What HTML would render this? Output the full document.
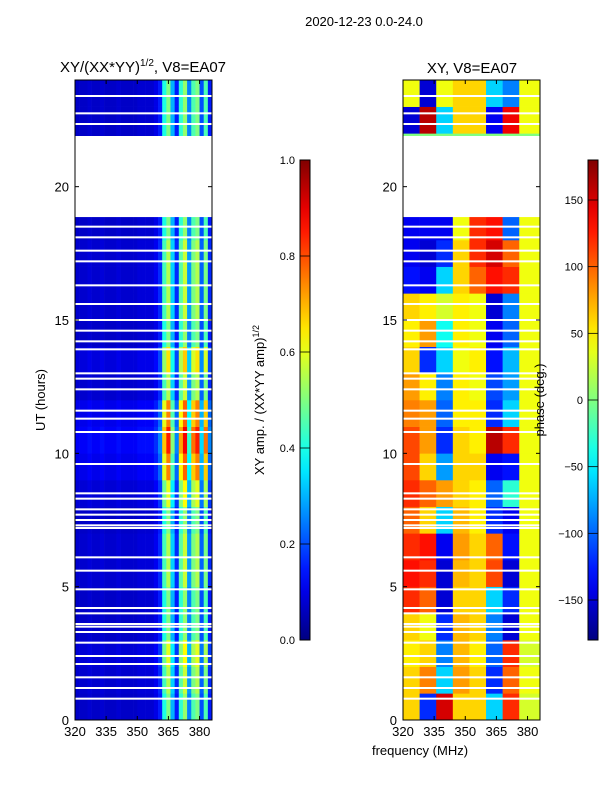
<!DOCTYPE html>
<html><head><meta charset="utf-8"><style>
body{margin:0;background:#fff;width:600px;height:800px;overflow:hidden;font-family:"Liberation Sans",sans-serif}
svg text{font-family:"Liberation Sans",sans-serif;fill:#000}
</style></head><body>
<svg id="fig" width="600" height="800" xmlns="http://www.w3.org/2000/svg">
<text x="364" y="26" font-size="13" text-anchor="middle">2020-12-23 0.0-24.0</text>
<text x="143" y="72" font-size="15" text-anchor="middle">XY/(XX*YY)<tspan font-size="10" dy="-6">1/2</tspan><tspan dy="6">, V8=EA07</tspan></text>
<text x="472" y="73" font-size="15" text-anchor="middle">XY, V8=EA07</text>
<text transform="translate(45,400) rotate(-90)" font-size="13" text-anchor="middle">UT (hours)</text>
<text transform="translate(264,400) rotate(-90)" font-size="13" text-anchor="middle">XY amp. / (XX*YY amp)<tspan font-size="9" dy="-5">1/2</tspan></text>
<g id="left"></g>
<g id="right"></g>
<text transform="translate(544,400) rotate(-90)" font-size="13" text-anchor="middle">phase (deg.)</text>
<text x="420" y="755" font-size="13" text-anchor="middle">frequency (MHz)</text>
<g id="cb"></g>
<g id="axes"></g>
</svg>
<script>
// ---- data ----
const ampFreqs=[320,322,324,326,328,330,332,334,336,338,340,342,344,346,348,350,352,354,356,358,360,362,364,366,368,370,372,374,376,378,380,382,384];
const ampCols=[0.07,0.07,0.07,0.08,0.07,0.07,0.08,0.07,0.07,0.07,0.08,0.07,0.07,0.07,0.07,0.08,0.08,0.08,0.08,0.1,0.15,0.4,0.5,0.3,0.15,0.42,0.52,0.25,0.45,0.5,0.2,0.45,0.15];
const ampRowScale=[1,1.1,1.2,1,1,1.1,1.1,1,1.2,1.5,1.7,1.5,1.1,1.3,1,1.1,1.1,1.1,1,1,1,1,1,1];
const phaseFreqs=[320,328,336,344,352,360,368,376];
const phaseRows=[
[60,-120,150,60,60,-60,120,30],
[60,90,-60,80,60,-120,100,40],
[50,60,-90,70,50,-100,120,30],
[60,40,-120,70,60,-90,-150,40],
[120,100,-150,60,60,-60,-120,40],
[130,120,-150,70,60,110,-150,40],
[120,130,-140,80,60,100,-130,40],
[100,60,-60,70,50,-120,-140,40],
[120,100,80,60,50,-100,-30,40],
[110,60,-80,60,60,-140,-130,40],
[110,80,-120,60,50,160,120,40],
[90,80,-100,50,50,-120,-60,40],
[80,50,-90,50,40,-110,-80,40],
[60,-120,-60,40,50,-130,-70,40],
[50,80,-40,50,40,-140,-100,40],
[60,50,30,50,40,-150,-90,40],
[-130,-140,-60,60,100,130,120,40],
[-140,-150,-120,60,120,150,100,40],
[-140,-140,-140,40,120,130,-100,40],
[0,0,0,0,0,0,0,0],[0,0,0,0,0,0,0,0],[0,0,0,0,0,0,0,0],
[-150,160,-60,60,60,-140,140,40],
[40,-150,40,60,60,-60,-90,40]];
const gapStart=[18.86];const gapEnd=[21.9];
const gapLines=[22.35,22.75,23.4,18.5,18.1,17.6,17.2,16.3,15.6,15.0,14.6,14.2,13.9,13.0,12.8,12.4,11.6,11.3,10.8,9.6,8.5,8.3,7.9,7.7,7.5,7.3,7.2,6.1,5.6,4.9,4.2,4.0,3.6,3.5,3.3,2.9,2.4,2.1,1.6,1.2,0.8];
const xTicks=[320,335,350,365,380];
const yTicks=[0,5,10,15,20];
const ampTicks=[0.0,0.2,0.4,0.6,0.8,1.0];
const phaseTicks=[-150,-100,-50,0,50,100,150];
// ---- helpers ----
const NS="http://www.w3.org/2000/svg";
function jet(v){v=Math.max(0,Math.min(1,v));const f=t=>Math.round(255*Math.max(0,Math.min(1,1.5-Math.abs(4*v-t))));return `rgb(${f(3)},${f(2)},${f(1)})`;}
function mk(tag,attrs,parent){const e=document.createElementNS(NS,tag);for(const k in attrs)e.setAttribute(k,attrs[k]);parent.appendChild(e);return e;}
const fMin=320,fMax=386,hMin=0,hMax=24;
const panels={left:{x0:75,x1:212},right:{x0:403,x1:540}};
const yTop=80,yBot=720;
const yS=h=>yBot-(h-hMin)/(hMax-hMin)*(yBot-yTop);
const xS=(p,f)=>p.x0+(f-fMin)/(fMax-fMin)*(p.x1-p.x0);
// left amp
const L=document.getElementById('left');
for(let r=0;r<24;r++){for(let c=0;c<ampFreqs.length;c++){
 const f0=ampFreqs[c],f1=c+1<ampFreqs.length?ampFreqs[c+1]:fMax;
 const x=xS(panels.left,f0),w=xS(panels.left,f1)-x;
 const el=mk('rect',{x:x,y:yS(r+1),width:w+0.3,height:yS(r)-yS(r+1)+0.3,fill:jet(ampCols[c]*ampRowScale[r])},L);
 
 
}}
// right phase
const R=document.getElementById('right');
for(let r=0;r<24;r++){for(let c=0;c<phaseFreqs.length;c++){
 const f0=phaseFreqs[c],f1=c+1<phaseFreqs.length?phaseFreqs[c+1]:fMax;
 const x=xS(panels.right,f0),w=xS(panels.right,f1)-x;
 const el=mk('rect',{x:x,y:yS(r+1),width:w+0.3,height:yS(r)-yS(r+1)+0.3,fill:jet((phaseRows[r][c]+180)/360)},R);
 
 
}}
// gaps & axes
const A=document.getElementById('axes');
for(const key of ['left','right']){const p=panels[key];const g=key==='left'?L:R;
 for(let i=0;i<gapStart.length;i++){const el=mk('rect',{x:p.x0,y:yS(gapEnd[i]),width:p.x1-p.x0,height:yS(gapStart[i])-yS(gapEnd[i]),fill:'#fff'},g);
  
  }
 for(const h of gapLines){const el=mk('rect',{x:p.x0,y:yS(h)-1,width:p.x1-p.x0,height:2,fill:'#fff'},g);
  
  }
 const fr=mk('rect',{x:p.x0,y:yTop,width:p.x1-p.x0,height:yBot-yTop,fill:'none',stroke:'#000','stroke-width':1},A);
 
 
 for(const t of xTicks){const x=xS(p,t);mk('line',{x1:x,x2:x,y1:yBot,y2:yBot-4,stroke:'#000'},A);mk('line',{x1:x,x2:x,y1:yTop,y2:yTop+4,stroke:'#000'},A);
  const tx=mk('text',{x:x,y:yBot+16,'font-size':13,'text-anchor':'middle'},A);tx.textContent=t;
  
  }
 for(const t of yTicks){const y=yS(t);mk('line',{x1:p.x0,x2:p.x0+4,y1:y,y2:y,stroke:'#000'},A);mk('line',{x1:p.x1,x2:p.x1-4,y1:y,y2:y,stroke:'#000'},A);
  const tx=mk('text',{x:p.x0-6,y:y+5,'font-size':13,'text-anchor':'end'},A);tx.textContent=t;
  
  }
}
// colorbars
const C=document.getElementById('cb');
const defs=mk('defs',{},C);const gr=mk('linearGradient',{id:'jetg',x1:0,y1:1,x2:0,y2:0},defs);
for(let i=0;i<=20;i++)mk('stop',{offset:i/20,'stop-color':jet(i/20)},gr);
const cbs=[{x:300,ticks:ampTicks,min:0,max:1,fmt:v=>v.toFixed(1),name:'amp-colorbar'},{x:588,ticks:phaseTicks,min:-180,max:180,fmt:v=>v<0?'\u2212'+(-v):''+v,name:'phase-colorbar'}];
for(const cb of cbs){const r=mk('rect',{x:cb.x,y:160,width:10,height:480,fill:'url(#jetg)',stroke:'#000','stroke-width':1},C);
 
 
 for(const t of cb.ticks){const y=640-(t-cb.min)/(cb.max-cb.min)*480;
  mk('line',{x1:cb.x,x2:cb.x+10,y1:y,y2:y,stroke:'#000','stroke-width':0.8},C);
  const tx=mk('text',{x:cb.x-5,y:y+4,'font-size':11,'text-anchor':'end'},C);
  tx.textContent=cb.fmt(t);
  
  }}
</script>
</body></html>
